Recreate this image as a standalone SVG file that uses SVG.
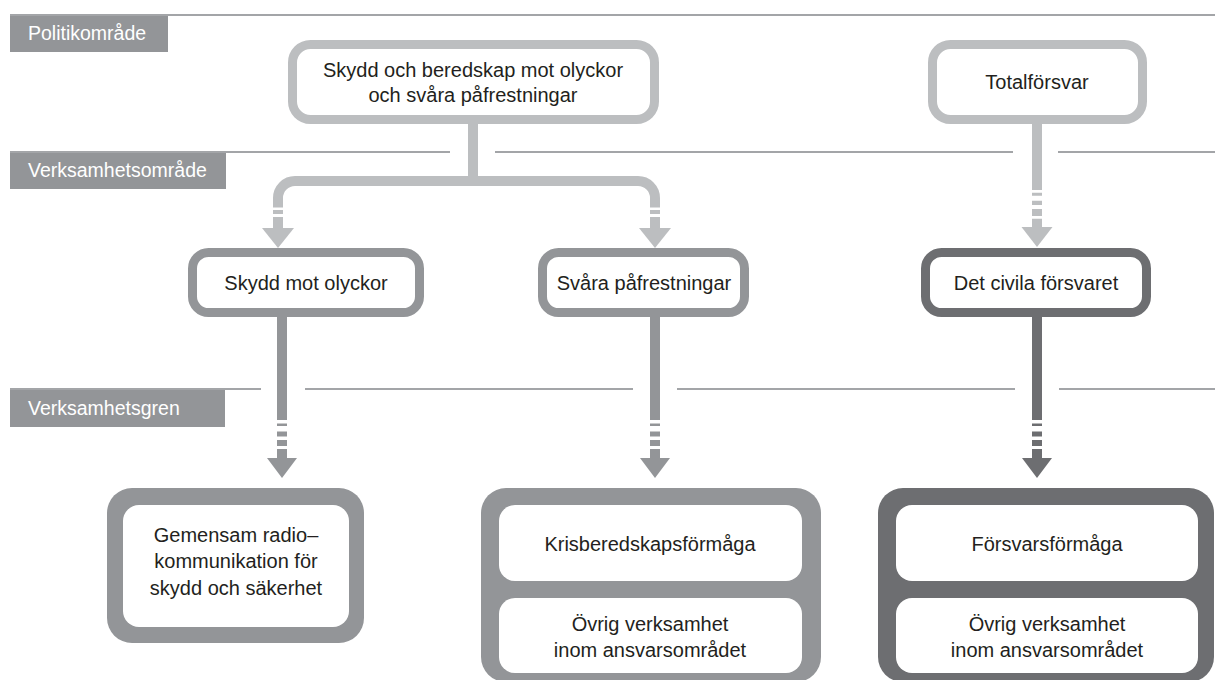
<svg xmlns="http://www.w3.org/2000/svg" width="1215" height="680" viewBox="0 0 1215 680">
<style>
.rule{stroke:#a3a5a8;stroke-width:2;fill:none}
.lab{fill:#939598}
.labt{font-family:"Liberation Sans",Arial,sans-serif;font-size:19.5px;fill:#ffffff}
.t{font-family:"Liberation Sans",Arial,sans-serif;font-size:20px;fill:#231f20;text-anchor:middle}
.nl{fill:#ffffff;stroke:#bcbec0;stroke-width:9}
.nm{fill:#ffffff;stroke:#939598;stroke-width:9}
.nd{fill:#ffffff;stroke:#6d6e71;stroke-width:9}
.cl{stroke:#bcbec0;stroke-width:10;fill:none}
.cm{stroke:#939598;stroke-width:10;fill:none}
.cd{stroke:#6d6e71;stroke-width:10;fill:none}
.fl{fill:#bcbec0}
.fm{fill:#939598}
.fd{fill:#6d6e71}
.in{fill:#ffffff}
</style>
<g id="bands">
<path class="rule" d="M10,15 H1215"/>
<path class="rule" d="M10,152 H450 M495,152 H1013 M1058,152 H1215"/>
<path class="rule" d="M10,389 H261 M305,389 H633 M677,389 H1015 M1059,389 H1215"/>
<rect class="lab" x="10" y="16" width="158" height="36"/>
<text class="labt" x="28" y="40">Politikområde</text>
<rect class="lab" x="10" y="153" width="216" height="36"/>
<text class="labt" x="28" y="177">Verksamhetsområde</text>
<rect class="lab" x="10" y="390" width="215" height="37"/>
<text class="labt" x="28" y="415">Verksamhetsgren</text>
</g>
<g id="connectors">
<path class="cl" d="M473,124 V181"/>
<path class="cl" d="M278,207.5 V198 A17,17 0 0 1 295,181 H638 A17,17 0 0 1 655,198 V207.5"/>
<path class="cl" d="M278,210 V214 M278,217 V229 M655,210 V214 M655,217 V229"/>
<polygon class="fl" points="262,228 294,228 278,248"/>
<polygon class="fl" points="639,228 671,228 655,248"/>
<path class="cl" d="M1037,124 V190 M1037,192.7 V195.7 M1037,200.7 V205 M1037,209 V216 M1037,218.7 V228"/>
<polygon class="fl" points="1021.5,227 1052.5,227 1037,247"/>
<path class="cm" d="M282,317 V420 M282,423.5 V426 M282,431.5 V436.5 M282,440 V446 M282,449 V459"/>
<polygon class="fm" points="267,458 297,458 282,478"/>
<path class="cm" d="M655,317 V420 M655,423.5 V426 M655,431.5 V436.5 M655,440 V446 M655,449 V459"/>
<polygon class="fm" points="640,458 670,458 655,478"/>
<path class="cd" d="M1037,317 V420 M1037,423.5 V426 M1037,431.5 V436.5 M1037,440 V446 M1037,449 V459"/>
<polygon class="fd" points="1022,458 1052,458 1037,478"/>
</g>
<g id="node-skydd-beredskap">
<rect class="nl" x="292.5" y="44.5" width="362" height="75" rx="18"/>
<text class="t" x="473" y="77">Skydd och beredskap mot olyckor</text>
<text class="t" x="473" y="102">och svåra påfrestningar</text>
</g>
<g id="node-totalforsvar">
<rect class="nl" x="932.5" y="44.5" width="210" height="75" rx="18"/>
<text class="t" x="1037" y="89">Totalförsvar</text>
</g>
<g id="node-skydd-mot-olyckor">
<rect class="nm" x="192.5" y="252.5" width="227" height="60" rx="16"/>
<text class="t" x="306" y="290">Skydd mot olyckor</text>
</g>
<g id="node-svara">
<rect class="nm" x="542.5" y="252.5" width="202" height="60" rx="16"/>
<text class="t" x="644" y="290">Svåra påfrestningar</text>
</g>
<g id="node-civila">
<rect class="nd" x="925.5" y="252.5" width="221" height="60" rx="16"/>
<text class="t" x="1036" y="290">Det civila försvaret</text>
</g>
<g id="node-radio">
<rect class="fm" x="107" y="488" width="257" height="155" rx="25"/>
<rect class="in" x="123" y="505" width="226" height="122" rx="16"/>
<text class="t" x="236" y="542">Gemensam radio–</text>
<text class="t" x="236" y="568">kommunikation för</text>
<text class="t" x="236" y="595">skydd och säkerhet</text>
</g>
<g id="node-kris">
<rect class="fm" x="481" y="488" width="340" height="194" rx="25"/>
<rect class="in" x="499" y="505" width="303" height="76" rx="16"/>
<rect class="in" x="499" y="598" width="303" height="75" rx="16"/>
<text class="t" x="650" y="551">Krisberedskapsförmåga</text>
<text class="t" x="650" y="631">Övrig verksamhet</text>
<text class="t" x="650" y="657">inom ansvarsområdet</text>
</g>
<g id="node-forsvar">
<rect class="fd" x="878" y="488" width="336" height="194" rx="25"/>
<rect class="in" x="896" y="505" width="302" height="76" rx="16"/>
<rect class="in" x="896" y="598" width="302" height="75" rx="16"/>
<text class="t" x="1047" y="551">Försvarsförmåga</text>
<text class="t" x="1047" y="631">Övrig verksamhet</text>
<text class="t" x="1047" y="657">inom ansvarsområdet</text>
</g>
</svg>
